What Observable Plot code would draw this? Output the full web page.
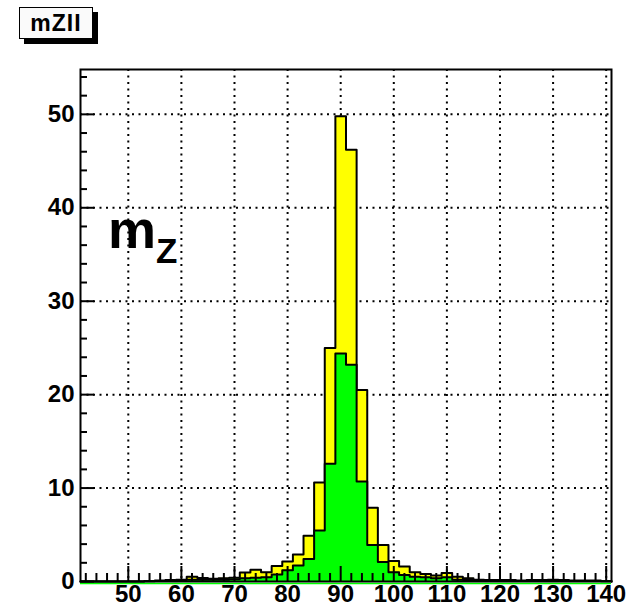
<!DOCTYPE html>
<html><head><meta charset="utf-8">
<script src="https://cdn.jsdelivr.net/npm/d3@7"></script>
<script src="https://cdn.jsdelivr.net/npm/@observablehq/plot@0.6"></script>
<style>
body{margin:0;background:#fff;font-family:"Liberation Sans",Arial,Helvetica,sans-serif;}
#wrap{position:relative;width:638px;height:610px;overflow:hidden;}
#title{position:absolute;left:19px;top:7px;width:72px;height:30px;border:1px solid #000;background:#fafafa;box-shadow:5px 5px 0 #000;font-weight:bold;font-size:23px;letter-spacing:1px;display:flex;align-items:center;justify-content:center;}
#mz{position:absolute;left:108px;top:202px;font-weight:bold;font-size:54px;line-height:1;}
#mz span{position:relative;top:15px;font-size:35px;font-weight:bold;margin-left:0px;}
</style></head>
<body>
<div id="wrap"><div id="chart"></div><div id="title">mZII</div><div id="mz">m<span>Z</span></div></div>
<script>
// bin centers (bin width 2, range 41-141)
const binCenters = [42,44,46,48,50,52,54,56,58,60,62,64,66,68,70,72,74,76,78,80,82,84,86,88,90,92,94,96,98,100,102,104,106,108,110,112,114,116,118,120,122,124,126,128,130,132,134,136,138,140];
// yellow histogram (all)
const yellowValues = [0,0,0,0,0,0,0.05,0.1,0.15,0.2,
  0.5,0.38,0.3,0.35,0.4,0.95,1.25,1.0,1.65,2.15,
  2.9,4.9,10.6,25.0,49.8,46.2,20.5,7.9,3.9,2.2,
  1.6,1.0,0.8,0.65,0.9,0.5,0.35,0.2,0.15,0.15,
  0.15,0.1,0.15,0.15,0.2,0.15,0.1,0.1,0.1,0.05];
// green histogram
const greenValues = [0,0,0,0,0,0,0.03,0.05,0.1,0.15,
  0.2,0.2,0.2,0.2,0.25,0.35,0.4,0.45,0.75,1.2,
  1.7,2.4,5.46,12.6,24.4,23.2,10.7,3.9,2.1,1.0,
  0.7,0.5,0.45,0.35,0.45,0.2,0.15,0.1,0.08,0.08,
  0.06,0.05,0.06,0.06,0.1,0.06,0.05,0.05,0.05,0.03];
const binHalf = 1;
const xMajorTicks = [50,60,70,80,90,100,110,120,130,140];
const yMajorTicks = [0,10,20,30,40,50];
const xMinorTicks = d3.range(42, 141, 2).filter(v => v % 10 !== 0);
const yMinorTicks = d3.range(2, 55, 2).filter(v => v % 10 !== 0);

function stairs(values) {
  const pts = [{x: binCenters[0] - binHalf, y: 0}];
  binCenters.forEach((c, i) => {
    pts.push({x: c - binHalf, y: values[i]});
    pts.push({x: c + binHalf, y: values[i]});
  });
  pts.push({x: binCenters[binCenters.length - 1] + binHalf, y: 0});
  return pts;
}
const yellowPts = stairs(yellowValues);
const greenPts = stairs(greenValues);

const W = 638, H = 610, mL = 80, mR = 27, mT = 69, mB = 29;
const innerW = W - mL - mR, innerH = H - mT - mB;
const font = {fontSize: 24, fontWeight: "bold", fontFamily: "Liberation Sans, Arial, sans-serif"};

const chart = Plot.plot({
  width: W, height: H,
  marginLeft: mL, marginRight: mR, marginTop: mT, marginBottom: mB,
  x: {domain: [41, 141]},
  y: {domain: [0, 54.8]},
  style: {background: "white", fontFamily: "Liberation Sans, Arial, sans-serif", overflow: "visible"},
  marks: [
    Plot.gridX(xMajorTicks, {stroke: "#000", strokeOpacity: 1, strokeWidth: 2, strokeDasharray: "2,4.5"}),
    Plot.gridY(yMajorTicks.slice(1), {stroke: "#000", strokeOpacity: 1, strokeWidth: 2, strokeDasharray: "2,4.5"}),
    Plot.area(yellowPts, {x1: "x", y1: 0, y2: "y", fill: "#ffff00", curve: "linear"}),
    Plot.line(yellowPts, {x: "x", y: "y", stroke: "#000", strokeWidth: 2}),
    Plot.area(greenPts, {x1: "x", y1: 0, y2: "y", fill: "#00ff00", curve: "linear"}),
    Plot.line(greenPts, {x: "x", y: "y", stroke: "#000", strokeWidth: 2}),
    Plot.ruleY([0], {stroke: "#00ff00", strokeWidth: 1.5, dy: 2}),
    Plot.tickX(xMajorTicks, {x: d => d, insetTop: innerH - 15, stroke: "#000", strokeWidth: 2}),
    Plot.tickX(xMinorTicks, {x: d => d, insetTop: innerH - 8, stroke: "#000", strokeWidth: 2}),
    Plot.tickY(yMajorTicks, {y: d => d, insetRight: innerW - 14, stroke: "#000", strokeWidth: 2}),
    Plot.tickY(yMinorTicks, {y: d => d, insetRight: innerW - 7, stroke: "#000", strokeWidth: 2}),
    Plot.axisX(xMajorTicks, {tickSize: 0, tickPadding: 3, label: null, ...font}),
    Plot.axisY(yMajorTicks, {tickSize: 0, tickPadding: 6, label: null, ...font}),
    Plot.frame({stroke: "#000", strokeWidth: 2})
  ]
});
document.getElementById("chart").appendChild(chart);
</script>
</body></html>
